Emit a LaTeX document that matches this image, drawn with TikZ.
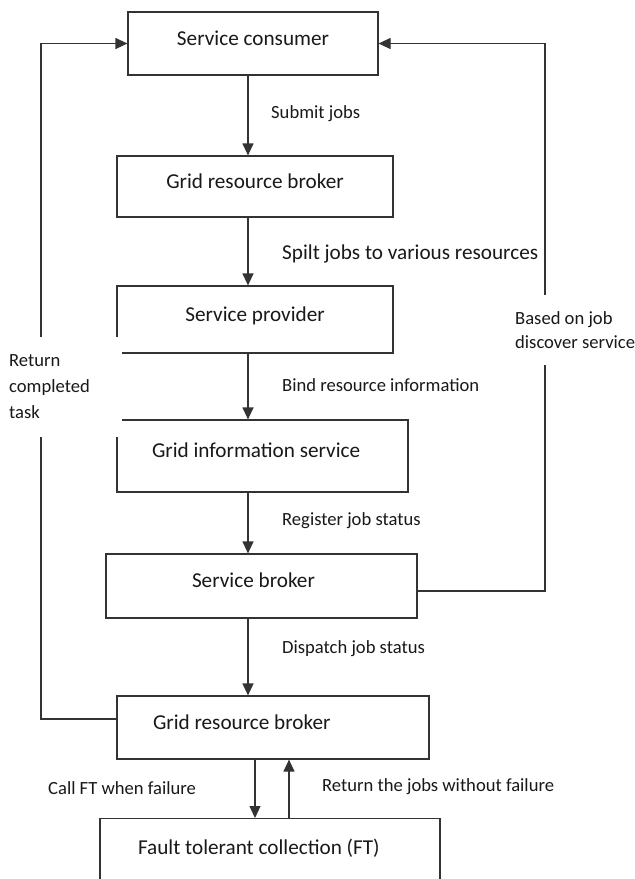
\documentclass[tikz,border=0pt]{standalone}
\usepackage{fontspec}
\setmainfont{Carlito}
\usetikzlibrary{arrows.meta}
\begin{document}
\begin{tikzpicture}[x={(1pt,0pt)}, y={(0pt,-1pt)},
  box/.style={draw=black!80, line width=1.2pt, inner sep=0pt, text height=13pt, text depth=10pt, font=\fontsize{21.2}{25}\selectfont, text=black!90},
  lbl/.style={anchor=west, inner sep=0pt, font=\fontsize{18.6}{22}\selectfont, text=black!90},
  biglbl/.style={anchor=west, inner sep=0pt, font=\fontsize{21.2}{25}\selectfont, text=black!90},
  arr/.style={draw=black!80, line width=1.2pt, -{Triangle[length=12pt,width=11pt]}},
  sidetext/.style={fill=white, anchor=west, inner ysep=0pt, align=left, text=black!90}]
\useasboundingbox (0,0) rectangle (635,879);
\clip (0,0) rectangle (635,879);
\fill[white] (0,0) rectangle (635,879);
% boxes
\node[box, minimum width=250pt, minimum height=63pt] (SC) at (253,43.5) {Service consumer};
\node[box, minimum width=276pt, minimum height=61pt] (GRB1) at (255,186.5) {Grid resource broker};
\node[box, minimum width=276pt, minimum height=67pt] (SP) at (255,319.5) {Service provider};
\node[box, minimum width=291pt, minimum height=72pt, inner xsep=35pt] (GIS) at (262.5,456) {\makebox[221pt][l]{Grid information service}};
\node[box, minimum width=311pt, minimum height=64pt, inner xsep=86pt] (SB) at (261.5,586) {\makebox[139pt][l]{Service broker}};
\node[box, minimum width=312pt, minimum height=63pt, inner xsep=36pt] (GRB2) at (273,727.5) {\makebox[240pt][l]{Grid resource broker}};
\node[box, anchor=north, minimum width=340pt, inner xsep=38pt, inner ysep=21pt, text height=15pt, text depth=45pt] (FT) at (270,818) {\makebox[264pt][l]{Fault tolerant collection (FT)}};
% helper coordinates
\coordinate (ax) at (248,0);
\coordinate (dx) at (255,0);
\coordinate (ux) at (289,0);
\coordinate (bl) at (41,0);
\coordinate (br) at (545,0);
% main chain
\draw[arr] (SC.south -| ax) -- (GRB1.north -| ax);
\draw[arr] (GRB1.south -| ax) -- (SP.north -| ax);
\draw[arr] (SP.south -| ax) -- (GIS.north -| ax);
\draw[arr] (GIS.south -| ax) -- (SB.north -| ax);
\draw[arr] (SB.south -| ax) -- (GRB2.north -| ax);
\draw[arr] (GRB2.south -| dx) -- (FT.north -| dx);
\draw[arr] (FT.north -| ux) -- (GRB2.south -| ux);
% feedback loops
\draw[arr] ([yshift=8.5pt]GRB2.west) -| (SC.west -| bl) -- (SC.west);
\draw[arr] ([yshift=-5pt]SB.east) -| (SC.east -| br) -- (SC.east);
% connector labels
\node[lbl] (l1) at (271,114) {Submit jobs};
\node[biglbl] (l2) at (282,254) {Spilt jobs to various resources};
\node[lbl] (l3) at (282,385) {Bind resource information};
\node[lbl] (l4) at (282,521) {Register job status};
\node[lbl] (l5) at (282,649) {Dispatch job status};
\node[lbl] (l6) at (48,788) {Call FT when failure};
\node[lbl] (l7) at (322,787) {Return the jobs without failure};
% side texts with white background
\node[sidetext, inner xsep=9pt, text width=104pt, minimum height=100pt, font=\fontsize{18.6}{26}\selectfont] (ret) at (0,387) {Return\\completed\\task};
\node[sidetext, inner xsep=10pt, minimum height=70pt, font=\fontsize{18.6}{24}\selectfont] (bas) at (505,330) {Based on job\\discover service};
\end{tikzpicture}
\end{document}
